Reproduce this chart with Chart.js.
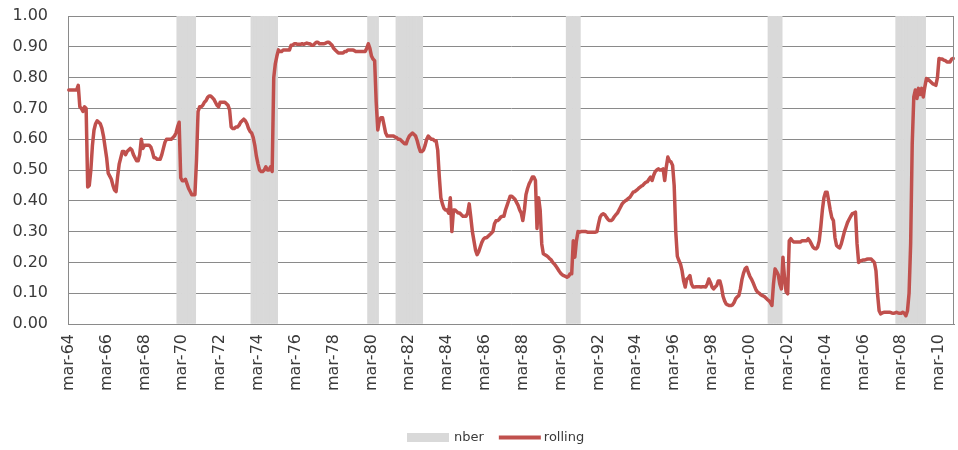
<!DOCTYPE html>
<html>
<head>
<meta charset="utf-8">
<script src="https://cdn.jsdelivr.net/npm/chart.js@4.4.1/dist/chart.umd.min.js"></script>
<style>
  html, body { margin: 0; padding: 0; background: #ffffff; }
  #wrap { width: 958px; height: 450px; }
</style>
</head>
<body>
<div id="wrap"><canvas id="chart" width="958" height="450"></canvas></div>
<script>
// Month abbreviations used for the category labels (monthly series starting March 1964)
const monthNames = ['jan', 'feb', 'mar', 'apr', 'may', 'jun', 'jul', 'aug', 'sep', 'oct', 'nov', 'dec'];
const startYear = 1964;
const startMonth = 2; // March

// Rolling estimate, one value per month; each row holds twelve months starting in March
const rolling = [
  0.76, 0.76, 0.76, 0.76, 0.76, 0.76, 0.775, 0.705, 0.70, 0.69, 0.705, 0.70,
  0.445, 0.45, 0.50, 0.58, 0.63, 0.65, 0.66, 0.655, 0.65, 0.635, 0.61, 0.575,
  0.54, 0.49, 0.48, 0.47, 0.45, 0.435, 0.43, 0.48, 0.52, 0.54, 0.56, 0.56,
  0.55, 0.56, 0.565, 0.57, 0.565, 0.55, 0.54, 0.53, 0.53, 0.55, 0.60, 0.57,
  0.58, 0.58, 0.58, 0.58, 0.575, 0.56, 0.54, 0.54, 0.535, 0.535, 0.535, 0.55,
  0.57, 0.59, 0.60, 0.60, 0.60, 0.60, 0.605, 0.61, 0.62, 0.64, 0.655, 0.475,
  0.465, 0.465, 0.47, 0.455, 0.44, 0.43, 0.42, 0.42, 0.42, 0.53, 0.69, 0.705,
  0.705, 0.71, 0.72, 0.725, 0.735, 0.74, 0.74, 0.735, 0.73, 0.72, 0.71, 0.705,
  0.72, 0.72, 0.72, 0.72, 0.715, 0.71, 0.695, 0.64, 0.635, 0.635, 0.64, 0.64,
  0.645, 0.655, 0.66, 0.665, 0.66, 0.65, 0.635, 0.625, 0.62, 0.605, 0.58, 0.545,
  0.52, 0.50, 0.495, 0.495, 0.50, 0.51, 0.50, 0.50, 0.51, 0.495, 0.80, 0.845,
  0.87, 0.89, 0.885, 0.885, 0.89, 0.89, 0.89, 0.89, 0.89, 0.905, 0.905, 0.91,
  0.91, 0.908, 0.908, 0.908, 0.91, 0.908, 0.91, 0.912, 0.91, 0.91, 0.905, 0.905,
  0.91, 0.915, 0.915, 0.91, 0.91, 0.91, 0.91, 0.912, 0.915, 0.915, 0.91, 0.905,
  0.895, 0.89, 0.885, 0.88, 0.88, 0.88, 0.88, 0.885, 0.885, 0.89, 0.89, 0.89,
  0.89, 0.888, 0.885, 0.885, 0.885, 0.885, 0.885, 0.885, 0.885, 0.895, 0.91, 0.895,
  0.87, 0.86, 0.855, 0.72, 0.63, 0.66, 0.67, 0.67, 0.645, 0.62, 0.61, 0.61,
  0.61, 0.61, 0.61, 0.607, 0.605, 0.60, 0.60, 0.595, 0.59, 0.585, 0.585, 0.60,
  0.61, 0.615, 0.62, 0.615, 0.61, 0.595, 0.575, 0.56, 0.56, 0.565, 0.58, 0.60,
  0.61, 0.605, 0.60, 0.60, 0.595, 0.595, 0.565, 0.48, 0.41, 0.39, 0.375, 0.37,
  0.37, 0.36, 0.41, 0.30, 0.37, 0.37, 0.365, 0.36, 0.36, 0.355, 0.35, 0.35,
  0.35, 0.36, 0.39, 0.347, 0.30, 0.27, 0.24, 0.225, 0.235, 0.25, 0.265, 0.275,
  0.28, 0.28, 0.285, 0.29, 0.295, 0.30, 0.325, 0.335, 0.336, 0.34, 0.347, 0.35,
  0.35, 0.37, 0.385, 0.40, 0.415, 0.415, 0.41, 0.405, 0.395, 0.385, 0.37, 0.36,
  0.336, 0.37, 0.42, 0.44, 0.455, 0.465, 0.477, 0.477, 0.466, 0.31, 0.41, 0.37,
  0.26, 0.228, 0.225, 0.222, 0.218, 0.212, 0.208, 0.20, 0.195, 0.188, 0.18, 0.172,
  0.165, 0.16, 0.157, 0.155, 0.152, 0.155, 0.163, 0.163, 0.27, 0.217, 0.27, 0.30,
  0.298, 0.30, 0.30, 0.30, 0.30, 0.298, 0.298, 0.298, 0.298, 0.298, 0.298, 0.30,
  0.325, 0.347, 0.355, 0.358, 0.355, 0.347, 0.34, 0.336, 0.336, 0.34, 0.348, 0.355,
  0.36, 0.37, 0.38, 0.39, 0.396, 0.40, 0.403, 0.408, 0.412, 0.42, 0.428, 0.43,
  0.434, 0.438, 0.443, 0.447, 0.45, 0.455, 0.46, 0.462, 0.47, 0.477, 0.466, 0.483,
  0.495, 0.50, 0.504, 0.50, 0.50, 0.504, 0.466, 0.51, 0.542, 0.53, 0.526, 0.515,
  0.45, 0.30, 0.22, 0.206, 0.195, 0.173, 0.14, 0.12, 0.146, 0.15, 0.157, 0.13,
  0.12, 0.12, 0.121, 0.121, 0.121, 0.12, 0.121, 0.121, 0.12, 0.13, 0.146, 0.135,
  0.12, 0.114, 0.12, 0.125, 0.14, 0.14, 0.12, 0.09, 0.075, 0.065, 0.062, 0.06,
  0.06, 0.062, 0.07, 0.082, 0.088, 0.092, 0.114, 0.145, 0.165, 0.179, 0.184, 0.168,
  0.155, 0.146, 0.135, 0.122, 0.11, 0.103, 0.10, 0.095, 0.092, 0.09, 0.085, 0.08,
  0.076, 0.07, 0.06, 0.13, 0.179, 0.17, 0.16, 0.13, 0.114, 0.217, 0.15, 0.105,
  0.098, 0.27, 0.277, 0.27, 0.266, 0.266, 0.266, 0.266, 0.266, 0.27, 0.27, 0.27,
  0.27, 0.277, 0.27, 0.26, 0.25, 0.245, 0.244, 0.25, 0.27, 0.315, 0.37, 0.41,
  0.428, 0.428, 0.40, 0.37, 0.345, 0.336, 0.28, 0.255, 0.25, 0.247, 0.26, 0.28,
  0.30, 0.315, 0.33, 0.34, 0.35, 0.358, 0.36, 0.363, 0.26, 0.20, 0.205, 0.206,
  0.208, 0.208, 0.21, 0.211, 0.211, 0.211, 0.205, 0.20, 0.173, 0.098, 0.043, 0.033,
  0.036, 0.038, 0.038, 0.038, 0.038, 0.038, 0.036, 0.035, 0.036, 0.038, 0.036, 0.035,
  0.035, 0.038, 0.035, 0.027, 0.043, 0.10, 0.26, 0.585, 0.737, 0.76, 0.732, 0.765,
  0.745, 0.765, 0.737, 0.77, 0.797, 0.795, 0.79, 0.785, 0.78, 0.778, 0.775, 0.80,
  0.862, 0.86, 0.86, 0.857, 0.855, 0.851, 0.851, 0.851, 0.86, 0.862
];

// NBER recession periods (first and last month, inclusive)
const nberPeriods = [
  ['dec-69', 'nov-70'],
  ['nov-73', 'mar-75'],
  ['jan-80', 'jul-80'],
  ['jul-81', 'nov-82'],
  ['jul-90', 'mar-91'],
  ['mar-01', 'nov-01'],
  ['dec-07', 'jun-09']
];

// A label is printed every 24 months
const labelEvery = 24;

// Category labels such as "mar-64"
const categories = rolling.map((_, i) => {
  const m = startMonth + i;
  const year = startYear + Math.floor(m / 12);
  return monthNames[m % 12] + '-' + String(year % 100).padStart(2, '0');
});

// Recession indicator: 1 inside a period, nothing outside
const nber = categories.map(() => null);
nberPeriods.forEach(([from, to]) => {
  const a = categories.indexOf(from);
  const b = categories.indexOf(to);
  for (let i = a; i <= b; i++) nber[i] = 1;
});

const RED = '#c0504d';
const BAND = '#d9d9d9';
const GRID = '#8a8a8a';
const TEXT = '#3a3a3a';
const FONT = "'DejaVu Sans', Verdana, sans-serif";

// Outline on the right-hand side of the plot area
const frame = {
  id: 'frame',
  afterDatasetsDraw(chart) {
    const { ctx, chartArea: a } = chart;
    ctx.save();
    ctx.strokeStyle = GRID;
    ctx.lineWidth = 1;
    ctx.beginPath();
    const x = Math.round(a.right) - 0.5;
    ctx.moveTo(x, a.top);
    ctx.lineTo(x, a.bottom);
    ctx.stroke();
    ctx.restore();
  }
};

// Legend row under the axis labels: a grey swatch for the bands, a red stroke for the line
const legendRow = {
  id: 'legendRow',
  afterDraw(chart) {
    const { ctx } = chart;
    const y = 437.5;
    const swatchW = 42;
    ctx.save();
    ctx.font = '13px ' + FONT;
    ctx.textBaseline = 'middle';
    ctx.textAlign = 'left';
    const nberW = ctx.measureText('nber').width;
    const rollW = ctx.measureText('rolling').width;
    const total = swatchW + 5 + nberW + 15 + swatchW + 3 + rollW;
    let x = Math.round(496 - total / 2);

    ctx.fillStyle = BAND;
    ctx.fillRect(x, y - 4.5, swatchW, 9);
    x += swatchW + 5;
    ctx.fillStyle = TEXT;
    ctx.fillText('nber', x, y);
    x += nberW + 15;

    ctx.strokeStyle = RED;
    ctx.lineWidth = 4;
    ctx.lineCap = 'butt';
    ctx.beginPath();
    ctx.moveTo(x, y);
    ctx.lineTo(x + swatchW, y);
    ctx.stroke();
    x += swatchW + 3;
    ctx.fillText('rolling', x, y);
    ctx.restore();
  }
};

new Chart(document.getElementById('chart'), {
  data: {
    labels: categories,
    datasets: [
      {
        type: 'line',
        label: 'rolling',
        data: rolling,
        borderColor: RED,
        backgroundColor: RED,
        borderWidth: 3.5,
        pointRadius: 0,
        pointHoverRadius: 0,
        tension: 0,
        borderJoinStyle: 'round',
        borderCapStyle: 'round',
        order: 0
      },
      {
        type: 'bar',
        label: 'nber',
        data: nber,
        backgroundColor: BAND,
        borderWidth: 0,
        barPercentage: 1,
        categoryPercentage: 1,
        order: 1
      }
    ]
  },
  options: {
    responsive: false,
    animation: false,
    layout: { padding: { top: 16, right: 4, left: 0, bottom: 36 } },
    plugins: {
      tooltip: { enabled: false },
      legend: { display: false }
    },
    scales: {
      x: {
        type: 'category',
        offset: true,
        grid: { display: false, drawTicks: false },
        border: { display: true, color: GRID, width: 1 },
        ticks: {
          autoSkip: false,
          maxRotation: 90,
          minRotation: 90,
          padding: 10,
          color: TEXT,
          font: { family: FONT, size: 16 },
          callback: (v, i) => (i % labelEvery === 0 ? categories[i] : null)
        },
        afterFit: (s) => {
          s.height = 450 - 324 - 36;
          s.paddingLeft = 0;
          s.paddingRight = 0;
        }
      },
      y: {
        min: 0,
        max: 1,
        grid: { color: GRID, lineWidth: 1, drawTicks: false },
        border: { display: true, color: GRID, width: 1 },
        ticks: {
          stepSize: 0.1,
          padding: 20,
          color: TEXT,
          font: { family: FONT, size: 16 },
          callback: (v) => Number(v).toFixed(2)
        },
        afterFit: (s) => {
          s.width = 68;
          s.paddingTop = 0;
          s.paddingBottom = 0;
        }
      }
    }
  },
  plugins: [frame, legendRow]
});
</script>
</body>
</html>
